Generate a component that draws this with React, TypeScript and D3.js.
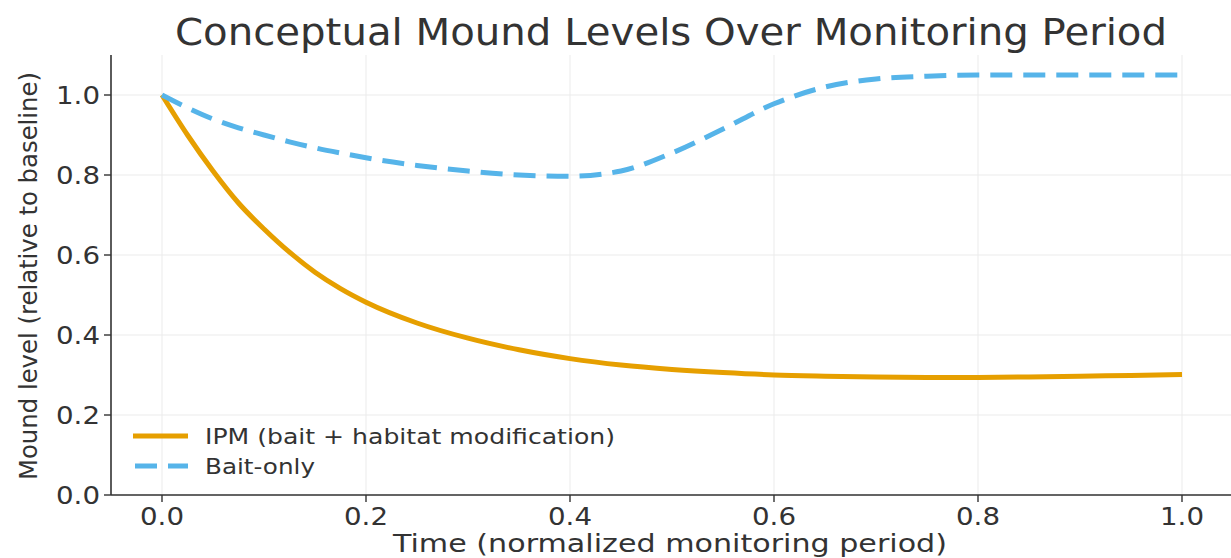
import React from "react";
import * as d3 from "d3";

const times = [0, 0.025, 0.05, 0.075, 0.1, 0.125, 0.15, 0.175, 0.2, 0.25, 0.3, 0.35, 0.4, 0.45, 0.5, 0.55, 0.6, 0.65, 0.7, 0.75, 0.8, 0.85, 0.9, 0.95, 1.0];
const ipmValues = [1.0, 0.9, 0.81, 0.73, 0.665, 0.607, 0.557, 0.516, 0.482, 0.43, 0.392, 0.363, 0.341, 0.325, 0.314, 0.306, 0.3, 0.297, 0.295, 0.294, 0.294, 0.295, 0.297, 0.299, 0.301];
const baitValues = [1.0, 0.968, 0.94, 0.918, 0.9, 0.883, 0.868, 0.855, 0.843, 0.824, 0.81, 0.8, 0.797, 0.81, 0.855, 0.915, 0.978, 1.02, 1.04, 1.047, 1.05, 1.05, 1.05, 1.05, 1.05];
const xTicks = [0, 0.2, 0.4, 0.6, 0.8, 1.0];
const yTicks = [0, 0.2, 0.4, 0.6, 0.8, 1.0];
const seriesNames = ["IPM (bait + habitat modification)", "Bait-only"];
const title = "Conceptual Mound Levels Over Monitoring Period";
const xLabel = "Time (normalized monitoring period)";
const yLabel = "Mound level (relative to baseline)";

const W = 1231;
const H = 558;
const FONT = "'DejaVu Sans', sans-serif";
const ORANGE = "#E69F00";
const BLUE = "#56B4E9";

export default function App() {
  const x = d3.scaleLinear().domain([-0.05, 1.05]).range([111, 1233]);
  const y = d3.scaleLinear().domain([0, 1.1]).range([495, 55]);
  const line = d3
    .line<number>()
    .x((_, i) => x(times[i]))
    .y((d) => y(d))
    .curve(d3.curveMonotoneX);

  const [x0, x1] = x.range();
  const [y0, y1] = y.range();

  return (
    <svg
      width={W}
      height={H}
      style={{ position: "absolute", left: 0, top: 0, background: "#fff" }}
      fontFamily={FONT}
    >
      <rect x={0} y={0} width={W} height={H} fill="#fff" />
      {/* grid */}
      {xTicks.map((t) => (
        <line key={"gx" + t} x1={x(t)} x2={x(t)} y1={y0} y2={y1} stroke="#ebebeb" strokeWidth={1} />
      ))}
      {yTicks.map((t) => (
        <line key={"gy" + t} x1={x0} x2={x1} y1={y(t)} y2={y(t)} stroke="#ebebeb" strokeWidth={1} />
      ))}
      {/* series */}
      <path d={line(ipmValues) || ""} fill="none" stroke={ORANGE} strokeWidth={5} strokeLinecap="butt" />
      <path
        d={line(baitValues) || ""}
        fill="none"
        stroke={BLUE}
        strokeWidth={5}
        strokeDasharray="22 11"
      />
      {/* spines */}
      <line x1={x0} x2={x0} y1={y0} y2={y1} stroke="#333" strokeWidth={1.6} />
      <line x1={x0} x2={x1} y1={y0} y2={y0} stroke="#333" strokeWidth={1.6} />
      {/* y ticks */}
      {yTicks.map((t) => (
        <g key={"yt" + t}>
          <line x1={x0 - 7} x2={x0} y1={y(t)} y2={y(t)} stroke="#333" strokeWidth={1.4} />
          <text x={100} y={y(t)} dy="0.36em" textAnchor="end" fontSize={25} fill="#333" textLength={44} lengthAdjust="spacingAndGlyphs">
            {t.toFixed(1)}
          </text>
        </g>
      ))}
      {/* x ticks */}
      {xTicks.map((t) => (
        <g key={"xt" + t}>
          <line x1={x(t)} x2={x(t)} y1={y0} y2={y0 + 7} stroke="#333" strokeWidth={1.4} />
          <text x={x(t) - 22} y={525} fontSize={25} fill="#333" textLength={44} lengthAdjust="spacingAndGlyphs">
            {t.toFixed(1)}
          </text>
        </g>
      ))}
      {/* labels */}
      <text x={175} y={45} fontSize={38} fill="#333" textLength={992} lengthAdjust="spacingAndGlyphs">
        {title}
      </text>
      <text x={393} y={552} fontSize={25} fill="#333" textLength={554} lengthAdjust="spacingAndGlyphs">
        {xLabel}
      </text>
      <text
        transform="translate(37,480) rotate(-90)"
        x={0}
        y={0}
        fontSize={25}
        fill="#333"
        textLength={408}
        lengthAdjust="spacingAndGlyphs"
      >
        {yLabel}
      </text>
      {/* legend */}
      <line x1={133} x2={188} y1={436} y2={436} stroke={ORANGE} strokeWidth={5} />
      <line x1={135} x2={188} y1={466} y2={466} stroke={BLUE} strokeWidth={5} strokeDasharray="22 11" />
      <text x={205} y={436} dy="0.36em" fontSize={21} fill="#333" textLength={410} lengthAdjust="spacingAndGlyphs">
        {seriesNames[0]}
      </text>
      <text x={205} y={466} dy="0.36em" fontSize={21} fill="#333" textLength={110} lengthAdjust="spacingAndGlyphs">
        {seriesNames[1]}
      </text>
    </svg>
  );
}
